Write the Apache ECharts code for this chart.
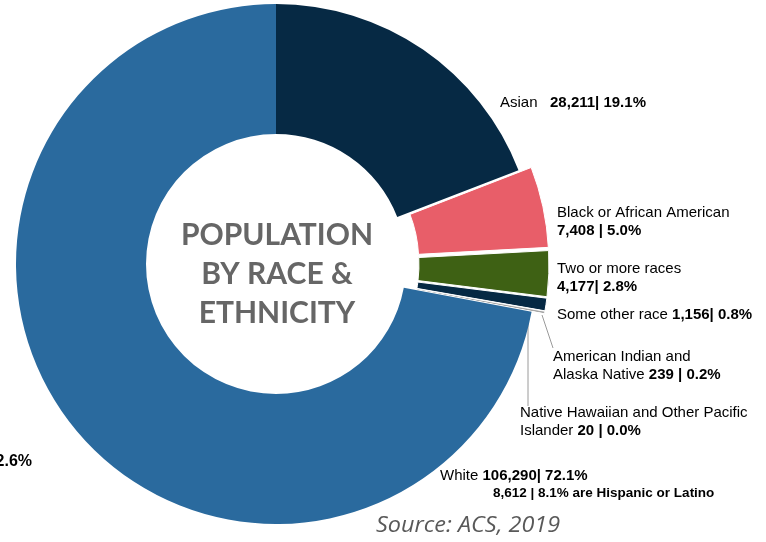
<!DOCTYPE html>
<html>
<head>
<meta charset="utf-8">
<script src="https://cdn.jsdelivr.net/npm/echarts@6/dist/echarts.min.js"></script>
<style>html,body{margin:0;padding:0;background:#fff}#chart{width:766px;height:542px}</style>
</head>
<body>
<div id="chart"></div>
<script>
const categories = ['Asian', 'Black or African American', 'Two or more races', 'Some other race', 'American Indian and Alaska Native', 'Native Hawaiian and Other Pacific Islander', 'White'];
const labelNames = ['Asian   ', 'Black or African American\n', 'Two or more races\n', 'Some other race ', 'American Indian and\nAlaska Native ', 'Native Hawaiian and Other Pacific\nIslander ', 'White '];
const populations = [28211, 7408, 4177, 1156, 239, 20, 106290];
const shares = ['19.1%', '5.0%', '2.8%', '0.8%', '0.2%', '0.0%', '72.1%'];
const separators = ['| ', ' | ', '| ', '| ', ' | ', ' | ', '| '];
const exploded = [false, true, true, true, true, true, false];
const hispanicCount = '8,612';
const hispanicShare = '8.1%';
const strayLabel = '72.6%';
const colors = ['#062944', '#E85E69', '#3E6114', '#062944', '#A6A6A6', '#A6A6A6', '#2A6A9E'];
const labelPos = [[500, 94], [557, 204], [557, 260], [557, 306], [553, 348], [520, 404], [440, 467]];
const labelLines = [null, null, null, null, [[542, 315], [553, 348]], [[528, 313], [528, 406]], null];

const FONT = 'Liberation Sans, Arial, sans-serif';
const data = categories.map((c, i) => ({
  name: c,
  value: populations[i],
  selected: exploded[i],
  itemStyle: { color: colors[i], borderColor: exploded[i] ? '#fff' : colors[i], borderWidth: exploded[i] ? 1 : 0 }
}));

const labelGraphics = categories.map((c, i) => {
  let s = labelNames[i] + '{b|' + populations[i].toLocaleString('en-US') + separators[i] + shares[i] + '}';
  if (i === 6) s += '\n{h|' + hispanicCount + ' | ' + hispanicShare + ' are Hispanic or Latino}';
  return {
    type: 'text', silent: true,
    style: {
      x: labelPos[i][0], y: labelPos[i][1], text: s, align: 'left', verticalAlign: 'top',
      fontFamily: FONT, fontSize: 15, lineHeight: 18, fill: '#000',
      rich: {
        b: { fontWeight: 'bold', fontSize: 15, lineHeight: 18, fontFamily: FONT, fill: '#000' },
        h: { fontWeight: 'bold', fontSize: 13.5, lineHeight: 16, padding: [0, 0, 0, 53], fontFamily: FONT, fill: '#000' }
      }
    }
  };
});
const lineGraphics = labelLines.filter(Boolean).map(pts => ({
  type: 'polyline', silent: true, shape: { points: pts }, style: { stroke: '#9a9a9a', lineWidth: 1, fill: null }
}));

const chart = echarts.init(document.getElementById('chart'), null, { renderer: 'canvas' });
chart.setOption({
  animation: false,
  series: [{
    type: 'pie',
    center: [276, 264],
    radius: [130, 260],
    startAngle: 90,
    clockwise: true,
    selectedMode: 'multiple',
    selectedOffset: 13,
    avoidLabelOverlap: false,
    emphasis: { disabled: true },
    select: { itemStyle: {} },
    label: { show: false },
    labelLine: { show: false },
    data: data
  }],
  graphic: [
    { type: 'text', silent: true, style: { x: 277, y: 274, text: 'POPULATION\nBY RACE &\nETHNICITY', align: 'center', verticalAlign: 'middle', font: 'bold 30px Lato, sans-serif', lineHeight: 39, fill: '#666666' } },
    { type: 'text', silent: true, x: 376, y: 526, scaleX: 1.115, style: { x: 0, y: 0, text: 'Source: ACS, 2019', align: 'left', verticalAlign: 'middle', font: 'italic 21px "Open Sans", sans-serif', fill: '#595959' } },
    { type: 'text', silent: true, style: { x: 32, y: 462, text: strayLabel, align: 'right', verticalAlign: 'middle', font: 'bold 16px Liberation Sans, Arial, sans-serif', fill: '#000' } }
  ].concat(labelGraphics, lineGraphics)
});
</script>
</body>
</html>
